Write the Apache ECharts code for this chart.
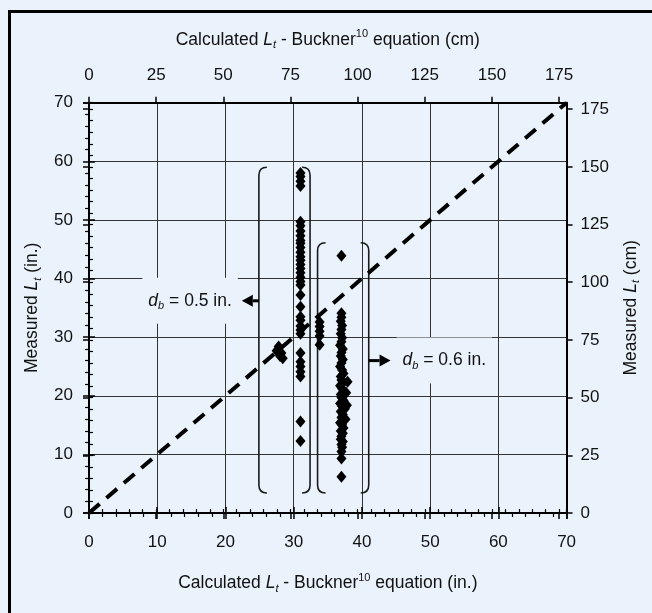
<!DOCTYPE html>
<html>
<head>
<meta charset="utf-8">
<script src="https://cdn.jsdelivr.net/npm/echarts@6/dist/echarts.min.js"></script>
<style>
  html, body { margin: 0; padding: 0; background: #eaf3fb; }
  #chart { width: 652px; height: 613px; }
</style>
</head>
<body>
<div id="chart"></div>
<script>
// ---------- data ----------
const inchTicks = [0, 10, 20, 30, 40, 50, 60, 70];
const cmTicks = [0, 25, 50, 75, 100, 125, 150, 175];
const IN_MAX = 70;
const CM_MAX = IN_MAX * 2.54;

// d_b = 0.5 in. (calculated in., measured in.)
const group05 = [
  [31.0, 58.0], [31.0, 57.4], [31.0, 56.6], [31.0, 55.8],
  [31.0, 49.7], [31.0, 49.0], [31.0, 48.1], [31.0, 47.3], [31.0, 46.5], [31.0, 46.0],
  [31.0, 45.3], [31.0, 44.5], [31.0, 43.7], [31.0, 43.1], [31.0, 42.4], [31.0, 41.7],
  [31.0, 41.0], [31.0, 40.2], [31.0, 39.5], [31.0, 38.9], [31.0, 37.2], [31.0, 35.2],
  [31.0, 33.5], [31.0, 32.9], [31.0, 31.9], [31.0, 31.2], [31.0, 30.6],
  [31.0, 27.3], [31.0, 25.8], [31.0, 25.0], [31.0, 24.1], [31.0, 23.3],
  [31.0, 15.6], [31.0, 12.3],
  [27.8, 28.4], [27.5, 27.7], [28.2, 27.3], [28.0, 26.8], [28.4, 26.4],
  [33.8, 32.6], [33.8, 31.8], [33.8, 31.0], [33.8, 30.2], [33.8, 28.7]
];

// d_b = 0.6 in.
const group06 = [
  [37.0, 43.9],
  [37.0, 34.1], [37.0, 33.4], [36.9, 32.7], [37.1, 32.0], [37.0, 31.3], [36.9, 30.6],
  [37.1, 29.9], [37.0, 29.2], [36.8, 28.6], [37.2, 28.0], [37.0, 27.4], [36.9, 26.8],
  [37.2, 26.2], [37.0, 25.6], [36.8, 25.0], [37.1, 24.4], [37.3, 23.8], [36.9, 23.3],
  [37.0, 22.7], [37.2, 22.2], [36.8, 21.7], [37.1, 21.2], [37.4, 20.7], [36.9, 20.2],
  [37.0, 19.7], [37.3, 19.2], [36.8, 18.7], [37.1, 18.2], [37.5, 17.8], [36.9, 17.3],
  [37.2, 16.8], [37.0, 16.3], [37.4, 15.9], [36.8, 15.4], [37.1, 15.0], [37.3, 14.5],
  [36.9, 14.0], [37.2, 13.6], [37.0, 13.1], [36.9, 12.6], [37.2, 12.2], [37.0, 11.7],
  [37.1, 11.2], [37.0, 10.5], [37.0, 9.3], [37.0, 6.2],
  [37.9, 22.4], [37.8, 18.4], [37.7, 20.5], [37.6, 16.0]
];

// 1:1 line
const equalityLine = [[0, 0], [70, 70]];

// brackets: [x, yTop, yBottom, direction(+1 opens right, -1 opens left)]
const brackets = [
  [24.9, 59.0, 3.4, 1],
  [32.4, 59.0, 3.4, -1],
  [33.5, 46.1, 3.4, 1],
  [41.0, 46.1, 3.4, -1]
];

// arrows: [xTail, xTip, y]
const arrows = [
  [24.9, 22.4, 36.2],
  [41.0, 44.2, 26.0]
];

// annotation labels: [x, y, text, side]
const annotations = [
  [22.4, 36.2, '0.5', 'left'],
  [44.2, 26.0, '0.6', 'right']
];

// ---------- styles ----------
const BG = '#eaf3fb';
const FONT = "'Liberation Sans', Arial, Helvetica, sans-serif";
const TXT = '#111111';
const FS = 17.5;
const richBase = {
  i: { fontStyle: 'italic', fontSize: FS, fontFamily: FONT, color: TXT, lineHeight: 22 },
  sub: { fontStyle: 'italic', fontSize: 11, fontFamily: FONT, color: TXT, lineHeight: 11, verticalAlign: 'bottom' },
  sup: { fontSize: 11, fontFamily: FONT, color: TXT, lineHeight: 11, verticalAlign: 'top' },
  n: { fontSize: FS, fontFamily: FONT, color: TXT, lineHeight: 22 }
};
const nameStyle = { fontSize: FS, fontFamily: FONT, color: TXT, lineHeight: 22, rich: richBase };
const labelStyle = { fontSize: 17, fontFamily: FONT, color: TXT };
const axisLineStyle = { show: true, onZero: false, lineStyle: { color: '#000', width: 2 } };
const majorTick = { show: true, inside: false, length: 6, lineStyle: { color: '#000', width: 1.5 } };
const insideTick = { show: true, inside: true, length: 6, lineStyle: { color: '#000', width: 1.5 } };
const minorTickOut = { show: true, inside: false, length: 4, lineStyle: { color: '#000', width: 1.2 } };
const gridLine = { show: true, lineStyle: { color: '#333333', width: 1 } };

function cmFormatter(v) {
  return cmTicks.indexOf(Math.round(v * 1000) / 1000) >= 0 ? String(v) : '';
}
function inFormatter(v) {
  return inchTicks.indexOf(v) >= 0 ? String(v) : '';
}

const chart = echarts.init(document.getElementById('chart'), null, { renderer: 'canvas' });

const option = {
  backgroundColor: BG,
  animation: false,
  grid: { left: 89, right: 85.4, top: 102.7, bottom: 100, containLabel: false },
  graphic: [{
    type: 'rect', z: 100,
    shape: { x: 9.5, y: 11.5, width: 700, height: 700 },
    style: { fill: 'none', stroke: '#000', lineWidth: 3 },
    silent: true
  }],
  xAxis: [
    {
      type: 'value', position: 'bottom', min: 0, max: IN_MAX, interval: 10,
      axisLine: axisLineStyle, axisTick: majorTick,
      minorTick: { show: true, splitNumber: 5, length: 4, lineStyle: { color: '#000', width: 1.2 } },
      splitLine: gridLine, minorSplitLine: { show: false },
      axisLabel: Object.assign({ margin: 21, formatter: inFormatter }, labelStyle),
      name: 'Calculated {i|L}{sub|t}{n| - Buckner}{sup|10}{n| equation (in.)}',
      nameLocation: 'middle', nameGap: 59, nameTextStyle: nameStyle
    },
    {
      type: 'value', position: 'bottom', min: 0, max: IN_MAX, interval: 10,
      axisLine: { show: false }, axisTick: insideTick, axisLabel: { show: false }, splitLine: { show: false }
    },
    {
      type: 'value', position: 'top', min: 0, max: CM_MAX, interval: 25,
      axisLine: axisLineStyle, axisTick: majorTick, splitLine: { show: false },
      axisLabel: Object.assign({ margin: 19, formatter: cmFormatter, showMaxLabel: false }, labelStyle),
      name: 'Calculated {i|L}{sub|t}{n| - Buckner}{sup|10}{n| equation (cm)}',
      nameLocation: 'middle', nameGap: 52, nameTextStyle: nameStyle
    },
    {
      type: 'value', position: 'top', min: 0, max: CM_MAX, interval: 5,
      axisLine: { show: false }, axisTick: minorTickOut, axisLabel: { show: false }, splitLine: { show: false }
    },
    {
      type: 'value', position: 'top', min: 0, max: CM_MAX, interval: 25,
      axisLine: { show: false }, axisTick: insideTick, axisLabel: { show: false }, splitLine: { show: false }
    }
  ],
  yAxis: [
    {
      type: 'value', position: 'left', min: 0, max: IN_MAX, interval: 10,
      axisLine: axisLineStyle, axisTick: majorTick,
      minorTick: { show: true, splitNumber: 5, length: 4, lineStyle: { color: '#000', width: 1.2 } },
      splitLine: gridLine, minorSplitLine: { show: false },
      axisLabel: Object.assign({ margin: 16, formatter: inFormatter }, labelStyle),
      name: 'Measured {i|L}{sub|t}{n| (in.)}',
      nameLocation: 'middle', nameGap: 45, nameTextStyle: nameStyle
    },
    {
      type: 'value', position: 'left', min: 0, max: IN_MAX, interval: 10,
      axisLine: { show: false }, axisTick: insideTick, axisLabel: { show: false }, splitLine: { show: false }
    },
    {
      type: 'value', position: 'right', min: 0, max: CM_MAX, interval: 25,
      axisLine: axisLineStyle, axisTick: majorTick, splitLine: { show: false },
      axisLabel: Object.assign({ margin: 14, formatter: cmFormatter, showMaxLabel: false }, labelStyle),
      name: 'Measured {i|L}{sub|t}{n| (cm)}',
      nameLocation: 'middle', nameGap: 51, nameTextStyle: nameStyle
    },
    {
      type: 'value', position: 'right', min: 0, max: CM_MAX, interval: 5,
      axisLine: { show: false }, axisTick: minorTickOut, axisLabel: { show: false }, splitLine: { show: false }
    },
    {
      type: 'value', position: 'right', min: 0, max: CM_MAX, interval: 25,
      axisLine: { show: false }, axisTick: insideTick, axisLabel: { show: false }, splitLine: { show: false }
    }
  ],
  series: [
    {
      type: 'custom', name: 'brackets', xAxisIndex: 0, yAxisIndex: 0, z: 2,
      data: brackets,
      renderItem: function (params, api) {
        const x = api.value(0), yt = api.value(1), yb = api.value(2), dir = api.value(3);
        const pt = api.coord([x, yt]);
        const pb = api.coord([x, yb]);
        const w = 8, r = 8;
        const d = 'M' + (pt[0] + dir * w) + ' ' + pt[1] +
          ' Q' + pt[0] + ' ' + pt[1] + ' ' + pt[0] + ' ' + (pt[1] + r) +
          ' L' + pb[0] + ' ' + (pb[1] - r) +
          ' Q' + pb[0] + ' ' + pb[1] + ' ' + (pb[0] + dir * w) + ' ' + pb[1];
        return {
          type: 'path',
          shape: { pathData: d },
          style: { fill: 'none', stroke: '#1a1a1a', lineWidth: 1.6 }
        };
      }
    },
    {
      type: 'line', name: '1:1', xAxisIndex: 0, yAxisIndex: 0, z: 3,
      data: equalityLine, showSymbol: false, symbol: 'none',
      lineStyle: { color: '#000', width: 4, type: [14, 9], opacity: 1 }
    },
    {
      type: 'scatter', name: 'db 0.5 in.', xAxisIndex: 0, yAxisIndex: 0, z: 4,
      data: group05, symbol: 'diamond', symbolSize: [10, 12],
      itemStyle: { color: '#000', opacity: 1 }
    },
    {
      type: 'scatter', name: 'db 0.6 in.', xAxisIndex: 0, yAxisIndex: 0, z: 4,
      data: group06, symbol: 'diamond', symbolSize: [10, 12],
      itemStyle: { color: '#000', opacity: 1 }
    },
    {
      type: 'custom', name: 'arrows', xAxisIndex: 0, yAxisIndex: 0, z: 5,
      data: arrows,
      renderItem: function (params, api) {
        const tail = api.coord([api.value(0), api.value(2)]);
        const tip = api.coord([api.value(1), api.value(2)]);
        const dir = tip[0] > tail[0] ? 1 : -1;
        const hl = 11, hw = 6;
        const base = tip[0] - dir * hl;
        return {
          type: 'group',
          children: [
            { type: 'line', shape: { x1: tail[0], y1: tail[1], x2: base, y2: tip[1] },
              style: { stroke: '#000', lineWidth: 3 } },
            { type: 'polygon', shape: { points: [[tip[0], tip[1]], [base, tip[1] - hw], [base, tip[1] + hw]] },
              style: { fill: '#000' } }
          ]
        };
      }
    },
    {
      type: 'scatter', name: 'labels', xAxisIndex: 0, yAxisIndex: 0, z: 1,
      data: annotations.map(function (a) {
        return {
          value: [a[0], a[1]],
          label: {
            show: true, position: a[3], distance: a[3] === 'left' ? 4 : 6,
            formatter: '{i|d}{sub|b}{n| = ' + a[2] + ' in.}',
            backgroundColor: BG, padding: [12, 6], opacity: 1,
            rich: richBase
          }
        };
      }),
      symbolSize: 0, silent: true,
      itemStyle: { color: BG, opacity: 1 }
    }
  ]
};
chart.setOption(option);
</script>
</body>
</html>
